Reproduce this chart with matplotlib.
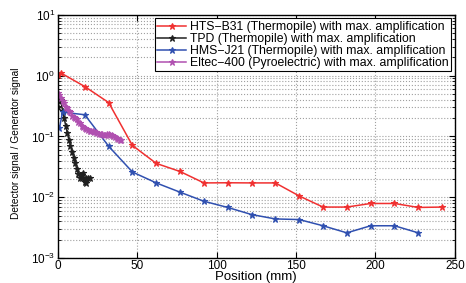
import matplotlib
matplotlib.use("Agg")
import matplotlib.pyplot as plt
from matplotlib.ticker import LogLocator, MultipleLocator, NullFormatter

plt.rcParams['font.family'] = ['Liberation Sans', 'DejaVu Sans']
plt.rcParams['mathtext.default'] = 'regular'

# HTS-B31 (Thermopile)
hts_x = [0, 2, 17, 32, 47, 62, 77, 92, 107, 122, 137, 152, 167, 182, 197, 212, 227, 242]
hts_y = [1.02, 1.1, 0.66, 0.36, 0.071, 0.036, 0.0265, 0.0172, 0.0173, 0.0172, 0.0172,
         0.0105, 0.0069, 0.0069, 0.0079, 0.0079, 0.0068, 0.0069]

# TPD (Thermopile)
tpd_x = [0, 1, 2, 3, 4, 5, 6, 7, 8, 9, 10, 11, 12, 13, 14, 15, 15.5, 16, 17, 17.5, 18, 19, 20]
tpd_y = [0.30, 0.38, 0.40, 0.26, 0.20, 0.15, 0.115, 0.088, 0.07, 0.055, 0.045, 0.036,
         0.029, 0.024, 0.021, 0.023, 0.021, 0.025, 0.018, 0.021, 0.017, 0.021, 0.021]

# HMS-J21 (Thermopile)
hms_x = [1, 3, 17, 32, 47, 62, 77, 92, 107, 122, 137, 152, 167, 182, 197, 212, 227]
hms_y = [0.135, 0.25, 0.227, 0.069, 0.026, 0.0172, 0.0121, 0.0086, 0.0068, 0.0052,
         0.0044, 0.0043, 0.0034, 0.0026, 0.0034, 0.0034, 0.0026]

# Eltec-400 (Pyroelectric)
elt_x = [0, 1, 2, 3, 4, 5, 6, 7, 8, 9, 10, 11, 12, 13, 14, 15, 16, 17, 18, 19, 20,
         21, 22, 23, 24, 25, 26, 27, 28, 29, 30, 31, 32, 33, 34, 35, 36, 37, 38, 39, 40]
elt_y = [0.52, 0.48, 0.43, 0.38, 0.35, 0.31, 0.29, 0.26, 0.25, 0.22, 0.21, 0.20, 0.19,
         0.175, 0.165, 0.15, 0.145, 0.138, 0.134, 0.128, 0.125, 0.123, 0.121, 0.119, 0.118,
         0.115, 0.111, 0.109, 0.108, 0.107, 0.106, 0.109, 0.111, 0.107, 0.104, 0.102,
         0.099, 0.095, 0.09, 0.088, 0.086]

labels = ['HTS\u2212B31 (Thermopile) with max. amplification',
          'TPD (Thermopile) with max. amplification',
          'HMS\u2212J21 (Thermopile) with max. amplification',
          'Eltec\u2212400 (Pyroelectric) with max. amplification']

fig = plt.figure(figsize=(4.66, 2.83), dpi=100)
ax = fig.add_axes([0.124, 0.088, 0.852, 0.86])

ax.plot(hts_x, hts_y, '-*', color='#f03030', lw=1.1, ms=5, mew=0.8, label=labels[0])
ax.plot(tpd_x, tpd_y, '-*', color='#202020', lw=1.1, ms=5, mew=0.8, label=labels[1])
ax.plot(hms_x, hms_y, '-*', color='#3050b0', lw=1.1, ms=5, mew=0.8, label=labels[2])
ax.plot(elt_x, elt_y, '-*', color='#b050b0', lw=1.1, ms=5, mew=0.8, label=labels[3])

ax.set_yscale('log')
ax.set_xlim(0, 250)
ax.set_ylim(1e-3, 1e1)
ax.xaxis.set_major_locator(MultipleLocator(50))
ax.yaxis.set_major_locator(LogLocator(base=10, numticks=10))
ax.yaxis.set_minor_locator(LogLocator(base=10, subs=range(2, 10), numticks=10))
ax.yaxis.set_minor_formatter(NullFormatter())

ax.grid(True, which='major', linestyle=':', color='#a0a0a0', lw=0.8)
ax.grid(True, which='minor', axis='y', linestyle=':', color='#a0a0a0', lw=0.8)
ax.tick_params(which='both', direction='in', top=True, right=True, labelsize=8.5)
ax.tick_params(axis='x', pad=1.5)
ax.tick_params(axis='y', pad=2)
ax.tick_params(which='major', length=4)
ax.tick_params(which='minor', length=2)
for s in ax.spines.values():
    s.set_linewidth(1)

ax.set_xlabel('Position (mm)', fontsize=9.5, labelpad=-1)
ax.set_ylabel('Detector signal / Generator signal', fontsize=7.3, labelpad=3)
ax.yaxis.set_label_coords(-0.092, 0.47)

leg = ax.legend(loc='upper right', fontsize=8.8, frameon=True, fancybox=False,
                edgecolor='black', framealpha=1, borderpad=0.2, labelspacing=0.0,
                handlelength=2.4, handletextpad=0.3, borderaxespad=0.3)
leg.get_frame().set_linewidth(0.8)

fig.savefig('out.png', dpi=100)
